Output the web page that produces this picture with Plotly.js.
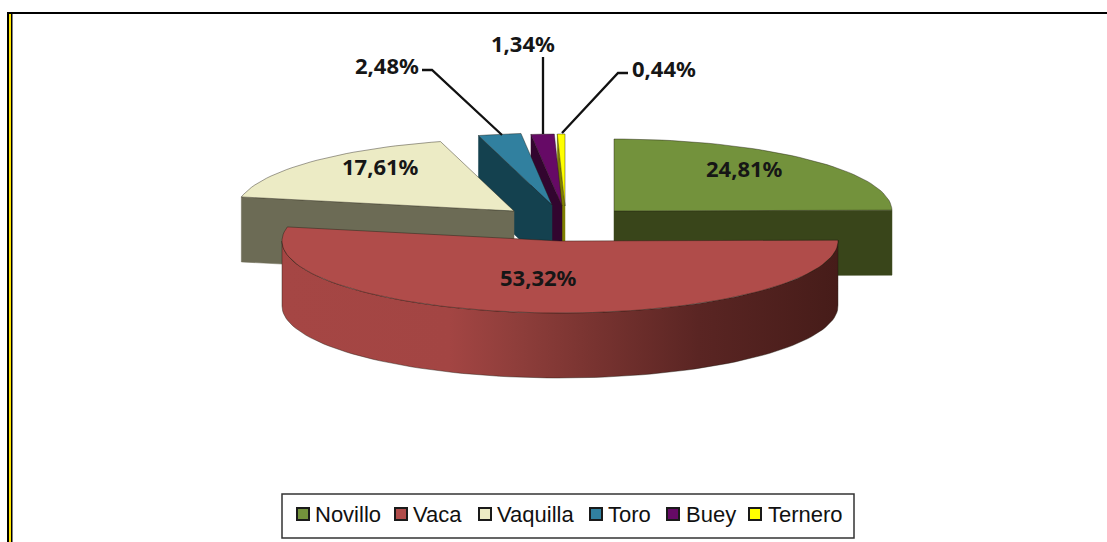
<!DOCTYPE html>
<html>
<head>
<meta charset="utf-8">
<script src="https://cdn.plot.ly/plotly-3.0.1.min.js"></script>
<style>html,body{margin:0;padding:0;background:#fff;overflow:hidden}#chart{width:1107px;height:542px}</style>
</head>
<body>
<div id="chart"></div>
<script>
// --- data ---
const categories = ["Novillo", "Vaca", "Vaquilla", "Toro", "Buey", "Ternero"];
const values = [24.81, 53.32, 17.61, 2.48, 1.34, 0.44];

// --- styles ---
const topColors = ["#73923c", "#b04c4a", "#ecebc5", "#31809f", "#660a66", "#ffff00"];
const sideColors = ["#39451a", "#a54644", "#6c6b55", "#14414f", "#32052f", "#7f7f00"];
const apexX = [614, 560, 514, 552, 562, 565];
const apexY = [211, 241, 211, 205, 206, 206];
const labelX = [744, 538, 380, 387, 523, 664];
const labelY = [168, 277, 166, 65, 43, 68];
const legendSwatchX = [303, 401, 485, 596, 673, 755];
const legendTextX = [314, 412, 496, 607, 685, 767];
const rx = 278, ry = 72, depth = 65;

// --- geometry derived from the values ---
const total = values.reduce((a, b) => a + b, 0);
let acc = 0;
const slices = values.map((v, i) => {
  const a0 = acc / total * 360;
  acc += v;
  return { i, a0, a1: acc / total * 360 };
});
function arc(s, from, to, dy) {
  const n = Math.max(2, Math.ceil(Math.abs(to - from) / 2));
  const xs = [], ys = [];
  for (let k = 0; k <= n; k++) {
    const t = (from + (to - from) * k / n) * Math.PI / 180;
    xs.push(apexX[s.i] + rx * Math.sin(t));
    ys.push(apexY[s.i] - ry * Math.cos(t) + dy);
  }
  return { xs, ys };
}
const edge = { color: "rgba(30,25,15,0.6)", width: 0.7 };
function poly(xs, ys, color, extra) {
  return Object.assign({
    x: xs, y: ys, type: "scatter", mode: "lines", fill: "toself",
    fillcolor: color, line: edge, hoverinfo: "skip", showlegend: false
  }, extra || {});
}
function topFace(s) {
  const a = arc(s, s.a0, s.a1, 0);
  return poly([apexX[s.i]].concat(a.xs, apexX[s.i]), [apexY[s.i]].concat(a.ys, apexY[s.i]), topColors[s.i]);
}
// face cut along the slice's starting angle, extruded downward
function cutFace(s, ang) {
  const p = arc(s, ang, ang, 0);
  const ax = apexX[s.i], ay = apexY[s.i];
  return poly([p.xs[0], ax, ax, p.xs[0], p.xs[0]],
              [p.ys[0], ay, ay + depth, p.ys[0] + depth, p.ys[0]], sideColors[s.i],
              { line: { color: sideColors[s.i], width: 0.5 } });
}
function rimFace(s, from, to, extra) {
  const a = arc(s, from, to, 0), b = arc(s, to, from, depth);
  return poly(a.xs.concat(b.xs, a.xs[0]), a.ys.concat(b.ys, a.ys[0]), sideColors[s.i], extra);
}
const [nov, vac, vaq, tor, bue, ter] = slices;
const traces = [
  cutFace(nov, nov.a1), topFace(nov),
  cutFace(ter, ter.a0), topFace(ter),
  cutFace(bue, bue.a0), topFace(bue),
  cutFace(tor, tor.a0), topFace(tor),
  cutFace(vaq, vaq.a0), topFace(vaq),
  rimFace(vac, vac.a0, 270, {
    fillgradient: {
      type: "horizontal",
      colorscale: [[0, "#a54644"], [0.3, "#a34543"], [0.42, "#8f3e3b"], [0.55, "#7a3431"],
                   [0.75, "#5a2523"], [1, "#461c19"]]
    }
  }),
  topFace(vac),
  // leader lines
  { x: [422, 432, 502], y: [70, 70, 135], type: "scatter", mode: "lines", line: { color: "#111", width: 2.3 }, hoverinfo: "skip", showlegend: false },
  { x: [543, 543], y: [57, 134], type: "scatter", mode: "lines", line: { color: "#111", width: 2.3 }, hoverinfo: "skip", showlegend: false },
  { x: [628, 618, 562], y: [73, 73, 133], type: "scatter", mode: "lines", line: { color: "#111", width: 2.3 }, hoverinfo: "skip", showlegend: false },
  // legend swatches
  { x: legendSwatchX, y: categories.map(() => 514), type: "scatter", mode: "markers",
    marker: { symbol: "square", size: 12, color: topColors, line: { color: "#1a1a1a", width: 2 } },
    hoverinfo: "skip", showlegend: false }
];

const fmt = v => v.toFixed(2).replace(".", ",") + "%";
const annotations = values.map((v, i) => ({
  x: labelX[i], y: labelY[i], xref: "x", yref: "y", text: "<b>" + fmt(v) + "</b>",
  showarrow: false, xanchor: "center", yanchor: "middle",
  font: { family: "Noto Sans, Open Sans, sans-serif", size: 22, color: "#161616" }
})).concat(categories.map((c, i) => ({
  x: legendTextX[i], y: 514, xref: "x", yref: "y", text: c,
  showarrow: false, xanchor: "left", yanchor: "middle", borderpad: 0,
  font: { family: "Liberation Sans, Arial, sans-serif", size: 22, color: "#111" }
})));

const frameShape = (x0, y0, x1, y1, c) => ({ type: "rect", xref: "x", yref: "y", x0, y0, x1, y1, fillcolor: c, line: { width: 0 }, layer: "below" });
const layout = {
  width: 1107, height: 542, margin: { l: 0, r: 0, t: 0, b: 0 },
  paper_bgcolor: "#fff", plot_bgcolor: "#fff", showlegend: false,
  xaxis: { range: [0, 1107], visible: false, fixedrange: true },
  yaxis: { range: [542, 0], visible: false, fixedrange: true },
  annotations,
  shapes: [
    frameShape(7, 12, 1107, 14, "#000"),
    frameShape(7, 12, 9, 542, "#000"),
    frameShape(9, 14, 11, 542, "#ffe600"),
    frameShape(11, 14, 12.5, 542, "#000"),
    { type: "rect", xref: "x", yref: "y", x0: 282, y0: 494, x1: 854, y1: 538, fillcolor: "#fff", line: { color: "#333", width: 1.5 }, layer: "below" }
  ]
};
Plotly.newPlot("chart", traces, layout, { displayModeBar: false, staticPlot: true });
</script>
</body>
</html>
